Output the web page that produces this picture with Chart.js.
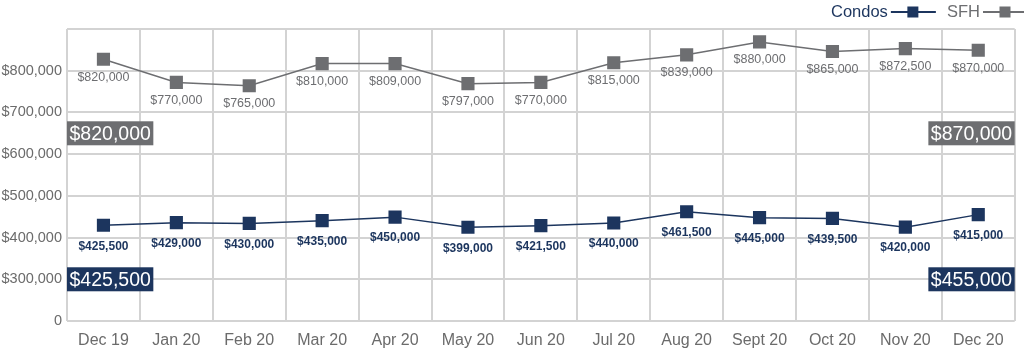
<!DOCTYPE html>
<html>
<head>
<meta charset="utf-8">
<script src="https://cdn.jsdelivr.net/npm/chart.js@4"></script>
<style>
  html, body { margin: 0; padding: 0; background: #fff; }
  #wrap { width: 1024px; height: 352px; }
</style>
</head>
<body>
<div id="wrap"><canvas id="priceChart" width="1024" height="352"></canvas></div>
<script>
// --- data ---
const months = ['Dec 19', 'Jan 20', 'Feb 20', 'Mar 20', 'Apr 20', 'May 20', 'Jun 20',
  'Jul 20', 'Aug 20', 'Sept 20', 'Oct 20', 'Nov 20', 'Dec 20'];

// where the markers sit on the axis
const condosValues = [429500, 435700, 434000, 440500, 449000, 424700, 428500,
  435000, 462000, 447700, 446000, 425000, 455000];
const sfhValues = [827600, 772000, 764000, 817000, 817000, 769000, 772000,
  819000, 838000, 869000, 846000, 853000, 849000];

// the printed value labels
const condosLabels = ['$425,500', '$429,000', '$430,000', '$435,000', '$450,000', '$399,000',
  '$421,500', '$440,000', '$461,500', '$445,000', '$439,500', '$420,000', '$415,000'];
const sfhLabels = ['$820,000', '$770,000', '$765,000', '$810,000', '$809,000', '$797,000',
  '$770,000', '$815,000', '$839,000', '$880,000', '$865,000', '$872,500', '$870,000'];

// start / end callouts
const condosEnds = ['$425,500', '$455,000'];
const sfhEnds = ['$820,000', '$870,000'];

const yMin = 200000;
const yMax = 900000;
const yStep = 100000;

const NAVY = '#1c355e';
const GREY = '#6d6e71';
const FONT = '"Liberation Sans", Arial, Helvetica, sans-serif';

// --- value labels under each marker ---
const pointLabels = {
  id: 'pointLabels',
  afterDatasetsDraw(chart) {
    const ctx = chart.ctx;
    ctx.save();
    ctx.textAlign = 'center';
    ctx.textBaseline = 'middle';
    chart.data.datasets.forEach((ds, i) => {
      const meta = chart.getDatasetMeta(i);
      ctx.font = ds.labelFont;
      ctx.fillStyle = ds.labelColor;
      meta.data.forEach((pt, j) => {
        ctx.fillText(ds.valueLabels[j], pt.x, pt.y + ds.labelOffset);
      });
    });
    ctx.restore();
  }
};

// --- boxed first / last values ---
const endBoxes = {
  id: 'endBoxes',
  afterDatasetsDraw(chart) {
    const ctx = chart.ctx;
    const area = chart.chartArea;
    const y = chart.scales.y;
    ctx.save();
    ctx.font = '19.5px ' + FONT;
    ctx.textBaseline = 'middle';
    const boxes = [
      { text: sfhEnds, color: GREY, at: 650000 },
      { text: condosEnds, color: NAVY, at: 300000 }
    ];
    boxes.forEach(b => {
      const cy = y.getPixelForValue(b.at);
      b.text.forEach((t, k) => {
        const w = ctx.measureText(t).width + 5;
        const x = k === 0 ? area.left : area.right - w;
        ctx.fillStyle = b.color;
        ctx.fillRect(x, cy - 12, w, 24);
        ctx.fillStyle = '#fff';
        ctx.textAlign = 'left';
        ctx.fillText(t, x + 2.5, cy + 1);
      });
    });
    ctx.restore();
  }
};

// --- legend: text first, then line + marker ---
const lineLegend = {
  id: 'lineLegend',
  afterDraw(chart) {
    const ctx = chart.ctx;
    ctx.save();
    ctx.font = '16.5px ' + FONT;
    ctx.textBaseline = 'middle';
    const items = [
      { text: 'Condos', color: NAVY, x: 831 },
      { text: 'SFH', color: GREY, x: 947 }
    ];
    const cy = 12;
    items.forEach(it => {
      ctx.fillStyle = it.color;
      ctx.textAlign = 'left';
      ctx.fillText(it.text, it.x, cy);
      const x0 = it.x + ctx.measureText(it.text).width + 3;
      ctx.strokeStyle = it.color;
      ctx.lineWidth = 2;
      ctx.beginPath();
      ctx.moveTo(x0, cy);
      ctx.lineTo(x0 + 45, cy);
      ctx.stroke();
      ctx.fillRect(x0 + 22 - 5.5, cy - 5.5, 11, 11);
    });
    ctx.restore();
  }
};

new Chart(document.getElementById('priceChart'), {
  type: 'line',
  data: {
    labels: months,
    datasets: [
      {
        label: 'Condos',
        data: condosValues,
        valueLabels: condosLabels,
        labelFont: 'bold 12px ' + FONT,
        labelColor: NAVY,
        labelOffset: 21,
        borderColor: NAVY,
        backgroundColor: NAVY,
        borderWidth: 1.5,
        pointStyle: 'rect',
        pointRadius: 9.3,
        pointBorderWidth: 0,
        tension: 0
      },
      {
        label: 'SFH',
        data: sfhValues,
        valueLabels: sfhLabels,
        labelFont: '12.5px ' + FONT,
        labelColor: GREY,
        labelOffset: 18,
        borderColor: GREY,
        backgroundColor: GREY,
        borderWidth: 1.5,
        pointStyle: 'rect',
        pointRadius: 9.3,
        pointBorderWidth: 0,
        tension: 0
      }
    ]
  },
  options: {
    responsive: false,
    animation: false,
    layout: { padding: { top: 29, right: 1, left: 0, bottom: 0 } },
    plugins: {
      legend: { display: false },
      tooltip: { enabled: false }
    },
    scales: {
      x: {
        offset: true,
        grid: { color: '#d3d3d3', lineWidth: 2, offset: true, drawTicks: false },
        border: { display: false },
        ticks: { color: '#6b6b6b', font: { family: FONT, size: 16 }, padding: 10 },
        afterFit: s => {
          s.height = 31;
          s.paddingLeft = 0;
          s.paddingRight = 0;
        }
      },
      y: {
        min: yMin,
        max: yMax,
        grid: { color: '#d3d3d3', lineWidth: 2, drawTicks: false },
        border: { display: false },
        ticks: {
          stepSize: yStep,
          color: '#6b6b6b',
          padding: 5,
          font: { family: FONT, size: 14.5 },
          callback: v => {
            if (v === yMax) return '';
            if (v === yMin) return '0';
            return '$' + v.toLocaleString('en-US');
          }
        },
        afterFit: s => { s.width = 67; }
      }
    }
  },
  plugins: [pointLabels, endBoxes, lineLegend]
});
</script>
</body>
</html>
